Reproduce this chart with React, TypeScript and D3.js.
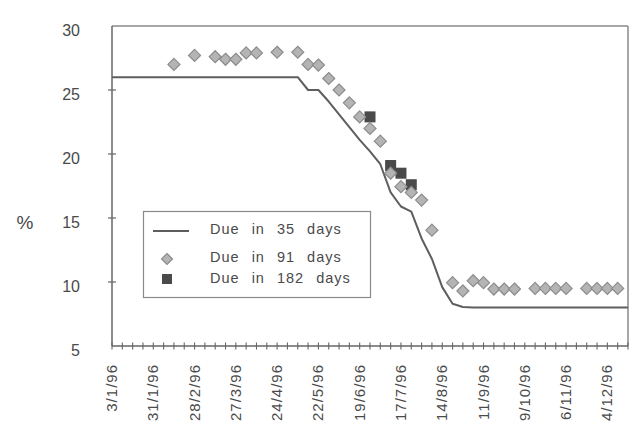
import React from "react";
import * as d3 from "d3";

// Weekly categories starting 3/1/96; label every 4th week
const tickLabels = ["3/1/96","31/1/96","28/2/96","27/3/96","24/4/96","22/5/96","19/6/96","17/7/96","14/8/96","11/9/96","9/10/96","6/11/96","4/12/96"];
const yTicks = [5, 10, 15, 20, 25, 30];

// Due in 35 days (line), one value per week index 0..50
const due35 = [
  26, 26, 26, 26, 26, 26, 26, 26, 26, 26,
  26, 26, 26, 26, 26, 26, 26, 26, 26, 25.0,
  25.0, 24.1, 23.1, 22.1, 21.1, 20.2, 19.2, 17.0, 15.9, 15.5,
  13.4, 11.8, 9.6, 8.3, 8.05, 8, 8, 8, 8, 8,
  8, 8, 8, 8, 8, 8, 8, 8, 8, 8, 8,
];
// Due in 91 days (diamonds): week index and value
const due91Weeks = [6, 8, 10, 11, 12, 13, 14, 16, 18, 19, 20, 21, 22, 23, 24, 25, 26, 27, 28, 29, 30, 31, 33, 34, 35, 36, 37, 38, 39, 41, 42, 43, 44, 46, 47, 48, 49];
const due91Values = [27.0, 27.7, 27.6, 27.4, 27.4, 27.9, 27.9, 27.95, 27.95, 27.0, 26.95, 25.9, 25.0, 24.0, 22.9, 22.0, 21.0, 18.5, 17.45, 17.0, 16.4, 14.05, 9.95, 9.3, 10.1, 9.95, 9.45, 9.45, 9.45, 9.5, 9.5, 9.5, 9.5, 9.5, 9.5, 9.5, 9.5];
// Due in 182 days (squares)
const due182Weeks = [25, 27, 28, 29];
const due182Values = [22.9, 19.1, 18.5, 17.6];

const legendLabels = ["Due in 35 days", "Due in 91 days", "Due in 182 days"];

export default function App() {
  const left = 112, right = 628, top = 26, bottom = 346;
  const x = d3.scaleLinear().domain([0, 50]).range([left, right]);
  const y = d3.scaleLinear().domain([5, 30]).range([bottom, top]);
  const line = d3.line<number>().x((_, i) => x(i)).y((d) => y(d));
  const font = "'Liberation Sans', Arial, sans-serif";
  const textColor = "#4a4a4a";
  const diamond = (cx: number, cy: number, r: number) =>
    `M${cx},${cy - r}L${cx + r},${cy}L${cx},${cy + r}L${cx - r},${cy}Z`;
  const weekTicks = d3.range(0, 51);

  return (
    <svg width={636} height={424} style={{ position: "absolute", left: 0, top: 0, background: "#fff" }} fontFamily={font}>
      {/* plot frame */}
      <line x1={left} x2={right} y1={top} y2={top} stroke="#8a8a8a" strokeWidth={1.5} />
      <line x1={right} x2={right} y1={top} y2={bottom} stroke="#8a8a8a" strokeWidth={1.5} />
      <line x1={left} x2={left} y1={top} y2={bottom} stroke="#666" strokeWidth={1.5} />
      <line x1={left} x2={right} y1={bottom} y2={bottom} stroke="#666" strokeWidth={1.5} />

      {/* y ticks and labels */}
      {yTicks.map((t) => (
        <g key={t}>
          {t !== 5 && t !== 30 && (
            <line x1={left - 4} x2={left + 4} y1={y(t)} y2={y(t)} stroke="#666" strokeWidth={1.2} />
          )}
          <text x={80} y={y(t) + 4} dy="0.35em" textAnchor="end" fontSize={16} fill={textColor}>
            {t}
          </text>
        </g>
      ))}
      <text x={25} y={222} dy="0.35em" textAnchor="middle" fontSize={19} fill={textColor}>%</text>

      {/* x ticks */}
      {weekTicks.map((i) => (
        <line key={i} x1={x(i)} x2={x(i)} y1={bottom - 3.5} y2={bottom + 3.5} stroke="#666" strokeWidth={1.1} />
      ))}
      {tickLabels.map((lab, k) => (
        <text
          key={lab}
          transform={`translate(${x(k * 4) + 5},${364}) rotate(-90)`}
          textAnchor="end"
          fontSize={15}
          letterSpacing={1}
          fill={textColor}
        >
          {lab}
        </text>
      ))}

      {/* line series */}
      <path d={line(due35) || ""} fill="none" stroke="#5e5e5e" strokeWidth={2} strokeLinejoin="round" />

      {/* squares */}
      {due182Weeks.map((w, k) => (
        <rect key={w} x={x(w) - 5.5} y={y(due182Values[k]) - 5.5} width={11} height={11} fill="#4a4a4a" />
      ))}
      {/* diamonds */}
      {due91Weeks.map((w, k) => (
        <path key={w} d={diamond(x(w), y(due91Values[k]), 6)} fill="#b4b4b4" stroke="#8c8c8c" strokeWidth={1.2} />
      ))}

      {/* legend */}
      <rect x={143.5} y={211.5} width={227} height={86} fill="#fff" stroke="#8a8a8a" strokeWidth={1.2} />
      <line x1={153} x2={189} y1={231} y2={231} stroke="#5e5e5e" strokeWidth={2} />
      <path d={diamond(167, 259, 5.5)} fill="#b4b4b4" stroke="#8c8c8c" strokeWidth={1.2} />
      <rect x={162} y={274} width={10} height={10} fill="#4a4a4a" />
      {legendLabels.map((lab, k) => (
        <text
          key={lab}
          x={210}
          y={[229, 257, 278][k]}
          dy="0.35em"
          fontSize={14.5}
          fill={textColor}
          letterSpacing={1}
          wordSpacing={7}
        >
          {lab}
        </text>
      ))}
    </svg>
  );
}
